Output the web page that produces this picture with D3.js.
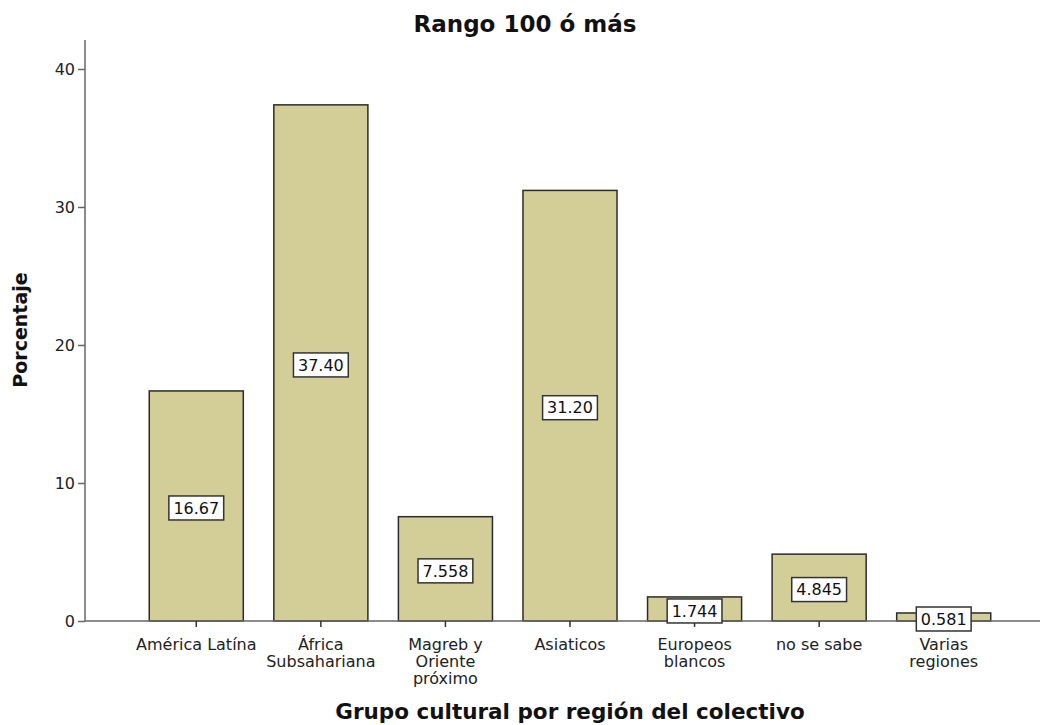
<!DOCTYPE html>
<html>
<head>
<meta charset="utf-8">
<script src="https://cdn.jsdelivr.net/npm/d3@7"></script>
<style>
  html, body { margin: 0; padding: 0; background: #fff; }
  svg { display: block; }
  text { font-family: "DejaVu Sans", sans-serif; fill: #111; }
</style>
</head>
<body>
<svg id="chart" width="1046" height="725"></svg>
<script>
// Percentage of the group "Rango 100 ó más" by cultural region
const categories = ["América Latína", "África Subsahariana", "Magreb y Oriente próximo", "Asiaticos", "Europeos blancos", "no se sabe", "Varias regiones"];
const categoryLines = [
  ["América Latína"],
  ["África", "Subsahariana"],
  ["Magreb y", "Oriente", "próximo"],
  ["Asiaticos"],
  ["Europeos", "blancos"],
  ["no se sabe"],
  ["Varias", "regiones"]
];
const values = [16.67, 37.40, 7.558, 31.20, 1.744, 4.845, 0.581];
const valueLabels = ["16.67", "37.40", "7.558", "31.20", "1.744", "4.845", "0.581"];
const yTicks = [0, 10, 20, 30, 40];

const svg = d3.select("#chart");
const axisLeftX = 85, axisRightX = 1040, baseY = 621, topY = 40;

const x = d3.scaleBand()
  .domain(categories)
  .range([134, 1006])
  .paddingInner(0.245)
  .paddingOuter(0.1225);

const y = d3.scaleLinear()
  .domain([0, 42.1])
  .range([baseY, topY]);

// Bars
svg.append("g").selectAll("rect")
  .data(categories)
  .join("rect")
  .attr("x", d => x(d))
  .attr("width", x.bandwidth())
  .attr("y", (d, i) => y(values[i]))
  .attr("height", (d, i) => baseY - y(values[i]))
  .attr("fill", "#d3ce98")
  .attr("stroke", "#2b2b2b")
  .attr("stroke-width", 1.5);

// Axes
const axisColor = "#666";
const yAxis = svg.append("g")
  .attr("transform", `translate(${axisLeftX},0)`)
  .call(d3.axisLeft(y).tickValues(yTicks).tickSize(7).tickPadding(3).tickSizeOuter(0));
yAxis.select(".domain").remove();
yAxis.append("line")
  .attr("x1", 0).attr("x2", 0).attr("y1", topY).attr("y2", baseY)
  .attr("stroke", axisColor).attr("stroke-width", 1.5);
yAxis.selectAll(".tick line").attr("stroke", axisColor).attr("stroke-width", 1.5);
yAxis.selectAll(".tick text")
  .style("font-size", "16px")
  .style("fill", "#222")
  .attr("dy", "0.36em");

const xAxis = svg.append("g")
  .attr("transform", `translate(0,${baseY})`)
  .call(d3.axisBottom(x).tickSize(6).tickSizeOuter(0).tickFormat(""));
xAxis.select(".domain").remove();
xAxis.insert("line", ":first-child")
  .attr("x1", axisLeftX).attr("x2", axisRightX).attr("y1", 0).attr("y2", 0)
  .attr("stroke", axisColor).attr("stroke-width", 1.5);
xAxis.selectAll(".tick line").attr("stroke", "#333").attr("stroke-width", 1.5);

// Multi-line category labels
xAxis.selectAll(".tick").each(function(d, i) {
  const t = d3.select(this).append("text")
    .attr("text-anchor", "middle")
    .style("font-size", "16px")
    .style("fill", "#222");
  categoryLines[i].forEach((line, k) => {
    t.append("tspan").attr("x", 0).attr("y", 29 + k * 17).text(line);
  });
});

// Value labels in boxes at mid-height of each bar
const lab = svg.append("g").selectAll("g")
  .data(categories)
  .join("g")
  .attr("transform", (d, i) => `translate(${x(d) + x.bandwidth() / 2},${y(values[i] / 2) + 2})`);
lab.each(function(d, i) {
  const g = d3.select(this);
  const rect = g.append("rect");
  const txt = g.append("text")
    .attr("text-anchor", "middle")
    .attr("dy", "0.36em")
    .style("font-size", "16px")
    .text(valueLabels[i]);
  const w = txt.node().getComputedTextLength() + 9;
  rect.attr("x", -w / 2).attr("y", -12).attr("width", w).attr("height", 24)
    .attr("fill", "#fff").attr("stroke", "#333").attr("stroke-width", 1.5);
});

// Titles
svg.append("text")
  .attr("x", 525).attr("y", 32)
  .attr("text-anchor", "middle")
  .style("font-size", "23px").style("font-weight", "bold")
  .text("Rango 100 ó más");

svg.append("text")
  .attr("x", 570).attr("y", 719)
  .attr("text-anchor", "middle")
  .style("font-size", "21.5px").style("font-weight", "bold")
  .text("Grupo cultural por región del colectivo");

svg.append("text")
  .attr("transform", "translate(27,330) rotate(-90)")
  .attr("text-anchor", "middle")
  .style("font-size", "19px").style("font-weight", "bold")
  .text("Porcentaje");
</script>
</body>
</html>
